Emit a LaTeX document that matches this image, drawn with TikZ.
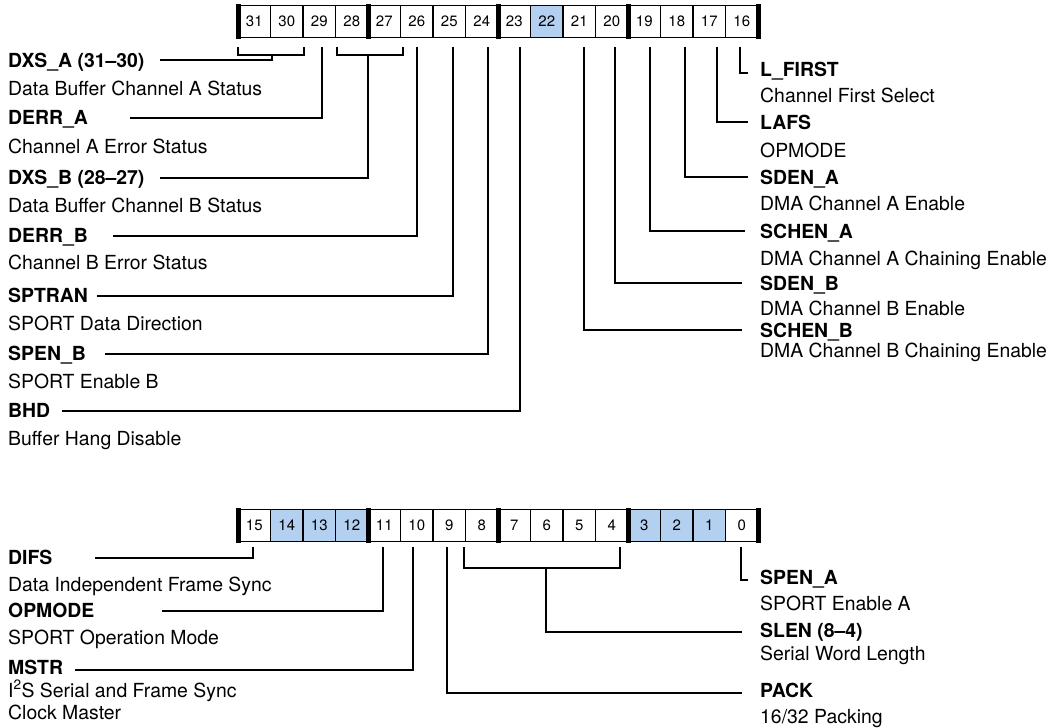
\documentclass[tikz,border=0pt]{standalone}
\usepackage{fontspec}
\setmainfont{TeX Gyre Heros}
\definecolor{hlblue}{RGB}{180,208,240}
\begin{document}
\begin{tikzpicture}[x=1pt,y=-1pt,
  cell/.style={draw,line width=1.8pt,minimum width=32.5pt,minimum height=32pt,inner sep=0pt,font=\fontsize{15}{18}\selectfont,anchor=center},
  bar/.style={line width=5pt},
  lead/.style={line width=2pt},
  brk/.style={line width=2.7pt},
  lbl/.style={anchor=base west,inner sep=0pt,font=\fontsize{19.4}{23}\selectfont\bfseries},
  dsc/.style={anchor=base west,inner sep=0pt,font=\fontsize{19.4}{23}\selectfont},
]
\useasboundingbox (0,0) rectangle (1058,728);
% ---------- top register ----------
\foreach \b in {16,...,31}{
  \pgfmathsetmacro\cx{238+(31-\b)*32.5+16.25}
  \ifnum\b=22 \def\fc{hlblue}\else\def\fc{white}\fi
  \node[cell,fill=\fc] (t\b) at (\cx,21.5) {\b};
}
\foreach \x in {238,368,498,628,758}{\draw[bar] (\x,4) -- (\x,39);}
% ---------- bottom register ----------
\foreach \b in {0,...,15}{
  \pgfmathsetmacro\cx{238+(15-\b)*32.5+16.25}
  \ifnum\b=14 \def\fc{hlblue}\else\ifnum\b=13 \def\fc{hlblue}\else\ifnum\b=12 \def\fc{hlblue}\else
  \ifnum\b=3 \def\fc{hlblue}\else\ifnum\b=2 \def\fc{hlblue}\else\ifnum\b=1 \def\fc{hlblue}\else
  \def\fc{white}\fi\fi\fi\fi\fi\fi
  \node[cell,fill=\fc] (b\b) at (\cx,525.5) {\b};
}
\foreach \x in {238,368,498,628,758}{\draw[bar] (\x,508) -- (\x,543);}

% ---------- top left labels ----------
\node[lbl] (dxsa)  at (8,67)  {DXS\_A (31–30)};
\node[dsc] (dxsad) at (8,95)  {Data Buffer Channel A Status};
\node[lbl] (derra) at (8,124) {DERR\_A};
\node[dsc] (derrad) at (8,153) {Channel A Error Status};
\node[lbl] (dxsb)  at (8,184) {DXS\_B (28–27)};
\node[dsc] (dxsbd) at (8,212) {Data Buffer Channel B Status};
\node[lbl] (derrb) at (8,242) {DERR\_B};
\node[dsc] (derrbd) at (8,269) {Channel B Error Status};
\node[lbl] (sptran) at (8,302) {SPTRAN};
\node[dsc] (sptrand) at (8,330) {SPORT Data Direction};
\node[lbl] (spenb) at (8,360) {SPEN\_B};
\node[dsc] (spenbd) at (8,388) {SPORT Enable B};
\node[lbl] (bhd)   at (8,417) {BHD};
\node[dsc] (bhdd)  at (8,445) {Buffer Hang Disable};

% ---------- top right labels ----------
\node[lbl] (lfirst) at (760,76)  {L\_FIRST};
\node[dsc] (lfirstd) at (760,102) {Channel First Select};
\node[lbl] (lafs)   at (760,129) {LAFS};
\node[dsc] (lafsd)  at (760,157) {OPMODE};
\node[lbl] (sdena)  at (760,184) {SDEN\_A};
\node[dsc] (sdenad) at (760,210) {DMA Channel A Enable};
\node[lbl] (schena) at (760,238) {SCHEN\_A};
\node[dsc] (schenad) at (760,265) {DMA Channel A Chaining Enable};
\node[lbl] (sdenb)  at (760,290) {SDEN\_B};
\node[dsc] (sdenbd) at (760,315) {DMA Channel B Enable};
\node[lbl] (schenb) at (760,337) {SCHEN\_B};
\node[dsc] (schenbd) at (760,357) {DMA Channel B Chaining Enable};

% ---------- bottom left labels ----------
\node[lbl] (difs)  at (8,564) {DIFS};
\node[dsc] (difsd) at (8,591) {Data Independent Frame Sync};
\node[lbl] (opm)   at (8,617) {OPMODE};
\node[dsc] (opmd)  at (8,644) {SPORT Operation Mode};
\node[lbl] (mstr)  at (8,674) {MSTR};
\node[dsc] (mstrd) at (8,697) {I\textsuperscript{2}S Serial and Frame Sync};
\node[dsc] (mstre) at (8,719) {Clock Master};

% ---------- bottom right labels ----------
\node[lbl] (spena)  at (760,584) {SPEN\_A};
\node[dsc] (spenad) at (760,610) {SPORT Enable A};
\node[lbl] (slen)   at (760,637) {SLEN (8–4)};
\node[dsc] (slend)  at (760,660) {Serial Word Length};
\node[lbl] (pack)   at (760,697) {PACK};
\node[dsc] (packd)  at (760,723) {16/32 Packing};

% ---------- connector coordinates ----------
\coordinate (v29) at (322,47);
\coordinate (v26) at (417,47);
\coordinate (v25) at (453,47);
\coordinate (v24) at (488,47);
\coordinate (v23) at (520,47);
\coordinate (v21) at (584,47);
\coordinate (v20) at (615,47);
\coordinate (v19) at (650,47);
\coordinate (v18) at (685,47);
\coordinate (v17) at (717,47);
\coordinate (v16) at (740,47);
\coordinate (brA) at (272,55);
\coordinate (brB) at (368,55);
\draw[brk] (238,47) -- (238,55) -- (304,55) -- (304,47);
\draw[brk] (337,47) -- (337,55) -- (403,55) -- (403,47);
\coordinate (dxsaL)  at (160,60);
\coordinate (derraL) at (130,118);
\coordinate (dxsbL)  at (160,178);
\coordinate (derrbL) at (113,236);
\coordinate (sptranL) at (97,296);
\coordinate (spenbL) at (105,354);
\coordinate (bhdL)   at (62,411);
\coordinate (lfirstR) at (748,73);
\coordinate (lafsR)   at (748,122);
\coordinate (sdenaR)  at (748,177);
\coordinate (schenaR) at (745,231);
\coordinate (sdenbR)  at (742,283);
\coordinate (schenbR) at (742,330);

\draw[lead] (dxsaL) -| (brA);
\draw[lead] (derraL) -| (v29);
\draw[lead] (dxsbL) -| (brB);
\draw[lead] (derrbL) -| (v26);
\draw[lead] (sptranL) -| (v25);
\draw[lead] (spenbL) -| (v24);
\draw[lead] (bhdL) -| (v23);
\draw[lead] (v16) |- (lfirstR);
\draw[lead] (v17) |- (lafsR);
\draw[lead] (v18) |- (sdenaR);
\draw[lead] (v19) |- (schenaR);
\draw[lead] (v20) |- (sdenbR);
\draw[lead] (v21) |- (schenbR);

\coordinate (v15) at (253,547);
\coordinate (v11) at (383,547);
\coordinate (v10) at (413,547);
\coordinate (v9)  at (447,547);
\coordinate (v0)  at (741,547);
\coordinate (brS) at (546,568);
\draw[brk] (464,547) -- (464,568) -- (620,568) -- (620,547);
\coordinate (difsL) at (95,558);
\coordinate (opmL)  at (162,611);
\coordinate (mstrL) at (75,670);
\coordinate (spenaR) at (748,580);
\coordinate (slenR)  at (742,632);
\coordinate (packR)  at (742,693);
\draw[lead] (difsL) -| (v15);
\draw[lead] (opmL) -| (v11);
\draw[lead] (mstrL) -| (v10);
\draw[lead] (v0) |- (spenaR);
\draw[lead] (brS) |- (slenR);
\draw[lead] (v9) |- (packR);
\end{tikzpicture}
\end{document}
